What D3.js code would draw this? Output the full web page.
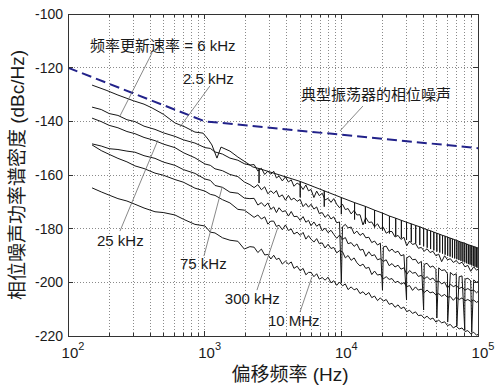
<!DOCTYPE html>
<html>
<head>
<meta charset="utf-8">
<script src="https://cdnjs.cloudflare.com/ajax/libs/d3/7.8.5/d3.min.js"></script>
<style>
  html, body { margin: 0; padding: 0; background: #fff; }
  svg { display: block; }
</style>
</head>
<body>
<svg id="chart" width="498" height="386"></svg>
<script>
// ---- DATA ----
const freqGrid = [150,175,200,232,270,309,360,433,500,606,700,849,1005,1100,1190,1350,1531,1750,1950,2143,
  2300,2450,2600,2750,2900,3050,3200,3350,3500,3700,3900,4100,4300,4500,4750,5000,5250,5500,5750,6000,
  6300,6600,6900,7250,7600,8000,8400,8800,9250,9700,10200,10700,11200,11800,12400,13000,13700,14400,15100,15900,
  16700,17500,18400,19300,20300,21300,22400,23500,24700,26000,27300,28700,30100,31600,33200,34900,36600,38500,40400,42400,
  44600,46800,49200,51600,54200,57000,59800,62800,66000,69300,72800,76400,80300,84300,88500,93000,97600,100000];

const rate6k = [-134.7,-135.6,-137.1,-137.8,-139.4,-140.1,-141.8,-143.0,-144.3,-145.6,-146.9,-148.1,-149.8,-150.1,-151.4,-152.2,-153.7,-154.5,-155.8,-156.3,
  -156.1,-158.5,-157.5,-159.8,-158.6,-159.7,-158.6,-161.1,-160.4,-162.2,-160.7,-162.6,-161.8,-164.2,-163.0,-163.8,-165.4,-163.7,-165.9,-165.4,
  -168.4,-166.0,-167.7,-166.8,-169.3,-168.7,-170.2,-168.8,-170.9,-172.2,-170.9,-172.9,-172.5,-174.5,-173.2,-174.9,-174.8,-178.6,-175.9,-177.7,
  -177.5,-179.3,-178.2,-180.0,-179.5,-181.7,-181.0,-181.1,-183.1,-182.5,-184.0,-183.2,-186.4,-184.6,-185.9,-185.5,-187.3,-187.0,-188.4,-187.5,
  -188.9,-188.4,-190.1,-189.5,-192.3,-190.1,-191.6,-191.2,-192.6,-191.9,-193.1,-192.5,-194.2,-193.7,-195.9,-194.2,-195.5,-195.1];

const rate25k = [-138.8,-140.1,-141.5,-142.4,-143.8,-144.6,-146.0,-147.2,-148.5,-149.8,-151.7,-153.6,-155.9,-156.4,-157.7,-158.4,-159.8,-160.6,-162.6,-163.6,
  -164.7,-163.6,-165.5,-164.4,-167.0,-165.9,-166.9,-165.8,-168.2,-167.4,-169.4,-167.6,-169.3,-168.6,-169.8,-169.1,-171.8,-170.6,-172.0,-170.9,
  -172.7,-171.9,-174.4,-174.0,-175.8,-174.7,-176.4,-175.6,-177.8,-177.5,-179.3,-178.4,-179.7,-179.4,-181.9,-180.9,-182.5,-181.7,-183.4,-183.2,
  -185.2,-184.6,-186.1,-185.4,-186.8,-186.5,-188.4,-187.6,-188.9,-188.4,-190.1,-189.7,-190.9,-190.2,-191.6,-191.4,-193.0,-192.2,-193.3,-192.9,
  -194.4,-193.9,-195.2,-194.6,-195.6,-195.3,-196.8,-196.3,-197.3,-196.8,-197.9,-197.6,-198.8,-198.5,-199.4,-199.1,-200.0,-199.7];

const rate75k = [-148.4,-149.2,-150.2,-150.5,-151.1,-151.5,-152.8,-153.8,-155.2,-156.4,-158.0,-159.4,-161.5,-162.0,-163.9,-164.6,-166.4,-166.8,-168.6,-168.8,
  -168.7,-171.2,-170.3,-171.7,-170.4,-172.8,-171.9,-174.0,-172.2,-173.7,-173.3,-175.3,-173.6,-175.5,-175.4,-176.9,-175.5,-177.6,-176.9,-178.9,
  -177.5,-179.1,-178.3,-180.8,-179.8,-181.5,-180.6,-182.1,-183.6,-182.4,-184.0,-183.3,-185.6,-185.2,-186.6,-185.7,-188.0,-187.7,-190.3,-188.6,
  -190.1,-189.7,-191.6,-191.2,-192.2,-191.6,-193.8,-193.0,-194.3,-193.6,-195.1,-194.6,-197.0,-195.6,-196.6,-196.3,-197.8,-197.4,-198.7,-197.9,
  -199.0,-198.4,-199.8,-199.5,-200.6,-199.9,-202.1,-200.7,-201.6,-201.1,-202.3,-201.8,-202.9,-202.3,-203.1,-202.9,-203.9,-203.4];

const rate300k = [-148.8,-150.9,-152.3,-153.8,-155.1,-156.6,-157.6,-159.3,-160.1,-161.7,-162.7,-164.9,-166.0,-167.2,-167.6,-169.2,-170.4,-172.8,-173.1,-174.6,
  -175.8,-174.9,-176.4,-175.6,-178.3,-177.2,-177.2,-179.2,-178.7,-180.4,-178.6,-180.7,-180.1,-182.0,-181.3,-182.5,-181.4,-183.9,-182.6,-183.9,
  -185.0,-183.7,-185.6,-185.3,-187.2,-185.8,-187.4,-187.0,-189.0,-188.2,-188.6,-190.9,-190.0,-191.8,-190.9,-192.7,-193.9,-193.2,-194.8,-194.4,
  -197.1,-195.8,-197.3,-197.0,-198.7,-197.9,-198.9,-198.6,-200.1,-199.6,-200.7,-200.1,-201.6,-201.2,-203.0,-201.7,-202.9,-202.5,-203.8,-202.9,
  -203.9,-203.6,-204.7,-204.2,-205.2,-204.5,-205.6,-205.3,-206.7,-205.5,-206.4,-205.8,-206.9,-206.4,-207.1,-206.6,-207.5,-207.1];

const rate10M = [-164.8,-166.3,-167.5,-168.8,-169.7,-170.9,-172.3,-173.7,-174.0,-174.9,-176.5,-178.4,-179.0,-181.3,-181.6,-183.4,-184.3,-184.7,-187.6,-186.7,
  -186.9,-188.9,-187.6,-189.8,-189.6,-191.3,-189.9,-191.5,-191.0,-193.2,-192.1,-193.2,-192.4,-194.8,-194.0,-195.7,-194.8,-197.2,-196.3,-196.3,
  -197.9,-196.8,-198.8,-198.2,-199.2,-198.1,-200.2,-199.4,-201.1,-199.9,-201.3,-200.6,-202.7,-201.7,-202.8,-202.3,-204.2,-203.5,-204.7,-203.8,
  -205.7,-205.1,-206.8,-205.8,-207.0,-206.4,-208.2,-207.8,-209.3,-208.4,-209.8,-209.2,-210.9,-210.4,-211.6,-211.0,-212.4,-212.2,-213.4,-212.6,
  -213.8,-213.3,-214.8,-214.1,-215.1,-214.7,-216.1,-215.7,-217.0,-216.3,-217.4,-217.0,-218.3,-218.0,-219.2,-218.6,-219.7,-219.4];

// 2.5 kHz curve: smooth start, then a comb of dips at every 2.5 kHz
const rate2500Start = [[150,-126.5],[190,-128.4],[232,-130.2],[300,-132.3],[360,-133.6],[412,-135.0],[500,-137.4],[606,-140.6],
  [718,-142.1],[849,-144.0],[973,-144.4],[1057,-146.6],[1130,-148.8],[1230,-153.7],[1317,-149.6],[1531,-151.1],[1749,-153.3],[2035,-155.5],[2250,-157.0]];
const combFreq = [2500,5000,7500,10000,12500,15000,17500,20000,22500,25000,27500,30000,32500,35000,37500,40000,42500,45000,47500,50000,
  52500,55000,57500,60000,62500,65000,67500,70000,72500,75000,77500,80000,82500,85000,87500,90000,92500,95000,97500,100000];
const combTop = [-157.6,-162.4,-165.9,-168.4,-170.3,-171.7,-173.1,-174.2,-175.3,-176.1,-176.9,-177.6,-178.2,-178.8,-179.3,-179.9,-180.4,-180.8,-181.3,-181.7,
  -182.1,-182.5,-182.8,-183.2,-183.5,-183.8,-184.1,-184.4,-184.7,-185.0,-185.2,-185.5,-185.7,-186.0,-186.2,-186.4,-186.6,-186.8,-187.0,-187.2];
const combLow = [-163.0,-168.3,-171.8,-174.6,-176.6,-178.2,-179.6,-180.7,-181.8,-182.7,-183.5,-184.2,-184.9,-185.5,-186.1,-186.6,-187.1,-187.6,-188.1,-188.5,
  -188.9,-189.3,-189.7,-190.1,-190.4,-190.8,-191.1,-191.4,-191.7,-192.0,-192.3,-192.6,-192.9,-193.2,-193.4,-193.7,-193.9,-194.2,-194.4,-194.6];

// deep narrow dips seen on the 25 kHz trace
const spikeFreq = [10000,20000,30000,40000,50000,60000,70000,80000,90000];
const spikeLow = [-200.3,-202.9,-206.6,-210.3,-213.3,-214.8,-216.3,-217.8,-218.5];

// typical oscillator phase noise (dashed)
const oscFreq = [100, 1000, 100000];
const oscLevel = [-120, -140, -150];

const yTicks = [-220, -200, -180, -160, -140, -120, -100];
const xDecades = [100, 1000, 10000, 100000];

// labels: text anchor point and pointer line (data coordinates)
const labels = [
  {text: "频率更新速率 = 6 kHz", f: 145, v: -113.8, from: [412, -114.5], to: [240, -138.0]},
  {text: "2.5 kHz", f: 694, v: -126.1, from: [1093, -126.8], to: [660, -142.1]},
  {text: "典型振荡器的相位噪声", f: 5063, v: -132.1, from: [14390, -134.3], to: [9770, -143.6]},
  {text: "25 kHz", f: 163, v: -186.5, from: [240, -180.9], to: [455, -147.0]},
  {text: "75 kHz", f: 660, v: -195.0, from: [988, -190.2], to: [1338, -164.8]},
  {text: "300 kHz", f: 1405, v: -208.1, from: [2413, -202.9], to: [3438, -179.4]},
  {text: "10 MHz", f: 2904, v: -216.3, from: [4980, -211.1], to: [6095, -198.0]}
];

// ---- LAYOUT ----
const width = 498, height = 386;
const margin = {top: 14, right: 20, bottom: 50, left: 68};
const innerW = width - margin.left - margin.right;
const innerH = height - margin.top - margin.bottom;
const latin = "'Liberation Sans', Arial, 'Noto Sans CJK SC', sans-serif";

const svg = d3.select("#chart");
const g = svg.append("g").attr("transform", `translate(${margin.left},${margin.top})`);

const x = d3.scaleLog().domain([100, 100000]).range([0, innerW]);
const y = d3.scaleLinear().domain([-220, -100]).range([innerH, 0]);

svg.append("defs").append("clipPath").attr("id", "plotClip")
  .append("rect").attr("width", innerW).attr("height", innerH);

// GRID
const xTickVals = x.ticks();
g.append("g").selectAll("line")
  .data(xTickVals.filter(d => d > 100 && d < 100000))
  .join("line")
  .attr("x1", d => x(d)).attr("x2", d => x(d))
  .attr("y1", 0).attr("y2", innerH)
  .attr("stroke", "#8a8a8a").attr("stroke-width", 1)
  .attr("stroke-dasharray", "1,2")
  .attr("shape-rendering", "crispEdges");

g.append("g").selectAll("line")
  .data(yTicks.filter(d => d > -220 && d < -100))
  .join("line")
  .attr("x1", 0).attr("x2", innerW)
  .attr("y1", d => y(d)).attr("y2", d => y(d))
  .attr("stroke", "#8a8a8a").attr("stroke-width", 1)
  .attr("stroke-dasharray", "1,2")
  .attr("shape-rendering", "crispEdges");

// CURVES
const line = d3.line().x(d => x(d[0])).y(d => y(d[1]));
const plot = g.append("g").attr("clip-path", "url(#plotClip)");

const rate25kPts = freqGrid.map((f, i) => [f, rate25k[i]])
  .concat(spikeFreq.map((f, i) => [f, spikeLow[i]]))
  .sort((a, b) => a[0] - b[0]);

const rate2500Pts = rate2500Start.slice();
combFreq.forEach((f, i) => {
  rate2500Pts.push([f, combTop[i]], [f, combLow[i]], [f, combTop[i]]);
});

const traces = [
  rate2500Pts,
  freqGrid.map((f, i) => [f, rate6k[i]]),
  rate25kPts,
  freqGrid.map((f, i) => [f, rate75k[i]]),
  freqGrid.map((f, i) => [f, rate300k[i]]),
  freqGrid.map((f, i) => [f, rate10M[i]])
];

plot.selectAll("path.trace")
  .data(traces)
  .join("path")
  .attr("class", "trace")
  .attr("d", line)
  .attr("fill", "none")
  .attr("stroke", "#151515")
  .attr("stroke-width", 1)
  .attr("stroke-linejoin", "round");

plot.append("path")
  .attr("d", line(oscFreq.map((f, i) => [f, oscLevel[i]])))
  .attr("fill", "none")
  .attr("stroke", "#22228a")
  .attr("stroke-width", 2)
  .attr("stroke-dasharray", "10,5");

// LABELS + POINTERS
g.append("g").selectAll("line")
  .data(labels)
  .join("line")
  .attr("x1", d => x(d.from[0])).attr("y1", d => y(d.from[1]))
  .attr("x2", d => x(d.to[0])).attr("y2", d => y(d.to[1]))
  .attr("stroke", "#6a6a6a").attr("stroke-width", 0.8);

g.append("g").selectAll("text")
  .data(labels)
  .join("text")
  .attr("x", d => x(d.f)).attr("y", d => y(d.v))
  .attr("font-family", latin)
  .attr("font-size", 15)
  .attr("fill", "#1a1a1a")
  .text(d => d.text);

// BOX + TICKS (inward, all four sides)
g.append("rect")
  .attr("width", innerW).attr("height", innerH)
  .attr("fill", "none").attr("stroke", "#333").attr("stroke-width", 1)
  .attr("shape-rendering", "crispEdges");

const ticks = g.append("g").attr("stroke", "#333").attr("stroke-width", 1).attr("shape-rendering", "crispEdges");
xTickVals.forEach(d => {
  const len = xDecades.includes(d) ? 5 : 3;
  ticks.append("line").attr("x1", x(d)).attr("x2", x(d)).attr("y1", innerH).attr("y2", innerH - len);
  ticks.append("line").attr("x1", x(d)).attr("x2", x(d)).attr("y1", 0).attr("y2", len);
});
yTicks.forEach(d => {
  ticks.append("line").attr("x1", 0).attr("x2", 5).attr("y1", y(d)).attr("y2", y(d));
  ticks.append("line").attr("x1", innerW).attr("x2", innerW - 5).attr("y1", y(d)).attr("y2", y(d));
});

// TICK LABELS
g.append("g").selectAll("text")
  .data(yTicks)
  .join("text")
  .attr("x", -5).attr("y", d => y(d) + 5)
  .attr("text-anchor", "end")
  .attr("font-family", latin).attr("font-size", 14)
  .attr("fill", "#1a1a1a")
  .text(d => d);

const xLab = g.append("g").selectAll("text")
  .data(xDecades)
  .join("text")
  .attr("x", d => x(d) + 5).attr("y", innerH + 22)
  .attr("text-anchor", "middle")
  .attr("font-family", latin).attr("font-size", 15)
  .attr("fill", "#1a1a1a");
xLab.append("tspan").text("10");
xLab.append("tspan").attr("dy", -8).attr("font-size", 11).text(d => Math.round(Math.log10(d)));

// AXIS TITLES
svg.append("text")
  .attr("x", 290).attr("y", 381)
  .attr("text-anchor", "middle")
  .attr("font-family", latin).attr("font-size", 19)
  .attr("fill", "#1a1a1a")
  .text("偏移频率 (Hz)");

svg.append("text")
  .attr("transform", `translate(24, ${margin.top + innerH / 2}) rotate(-90)`)
  .attr("text-anchor", "middle")
  .attr("font-family", latin).attr("font-size", 19)
  .attr("fill", "#1a1a1a")
  .text("相位噪声功率谱密度 (dBc/Hz)");
</script>
</body>
</html>
